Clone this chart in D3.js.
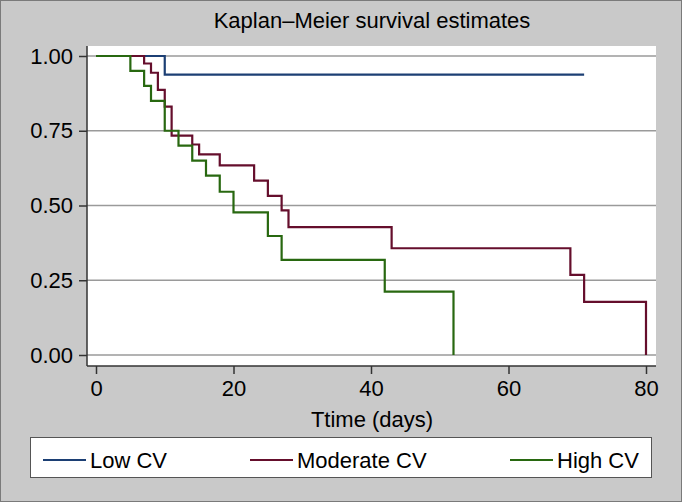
<!DOCTYPE html>
<html>
<head>
<meta charset="utf-8">
<script src="https://cdn.jsdelivr.net/npm/d3@7"></script>
<style>
  body { margin: 0; background: #c9c9c9; }
  svg { display: block; font-family: "Liberation Sans", Arial, sans-serif; }
</style>
</head>
<body>
<svg width="682" height="502"></svg>
<script>
// survival curves: step times (days) and KM estimates after each step
const lowTimes = [0, 10, 71];
const lowSurv = [1, 0.9375, 0.9375];

const modTimes = [0, 7, 8, 9, 10, 11, 14, 15, 18, 23, 25, 27, 28, 43, 69, 71, 80, 80];
const modSurv = [1, 0.975, 0.944, 0.887, 0.831, 0.734, 0.704, 0.671, 0.634, 0.583, 0.532, 0.484, 0.428, 0.357, 0.268, 0.178, 0.178, 0];

const highTimes = [0, 5, 7, 8, 10, 12, 14, 16, 18, 20, 25, 27, 42, 52, 52];
const highSurv = [1, 0.95, 0.90, 0.85, 0.75, 0.70, 0.65, 0.60, 0.546, 0.477, 0.398, 0.318, 0.212, 0.212, 0];

const seriesNames = ["Low CV", "Moderate CV", "High CV"];
const seriesColors = ["#1c3f74", "#650e2c", "#286810"];

const xTicks = [0, 20, 40, 60, 80];
const yTicks = [0, 0.25, 0.5, 0.75, 1];

const svg = d3.select("svg");

// outer frame
svg.append("rect")
  .attr("x", 0.5).attr("y", 0.5)
  .attr("width", 681).attr("height", 501)
  .attr("fill", "#c9c9c9")
  .attr("stroke", "#7a7a7a");

const x = d3.scaleLinear().domain([0, 80]).range([96, 646]);
const y = d3.scaleLinear().domain([0, 1]).range([355, 56]);

// plot region
svg.append("rect")
  .attr("x", 87).attr("y", 46)
  .attr("width", 569).attr("height", 320)
  .attr("fill", "#fff");

// grid
svg.append("g")
  .selectAll("line")
  .data(yTicks)
  .join("line")
  .attr("x1", 87).attr("x2", 656)
  .attr("y1", d => y(d)).attr("y2", d => y(d))
  .attr("stroke", "#9a9a9a")
  .attr("stroke-width", 1.5);

// axes
const yAxis = svg.append("g")
  .attr("transform", "translate(87,0)")
  .call(d3.axisLeft(y).tickValues(yTicks).tickFormat(d3.format(".2f")).tickSize(8).tickPadding(6));

const xAxis = svg.append("g")
  .attr("transform", "translate(0,366)")
  .call(d3.axisBottom(x).tickValues(xTicks).tickSize(8).tickPadding(6));

yAxis.select(".domain").attr("d", "M0,46V366");
xAxis.select(".domain").attr("d", "M87,0H656");

[yAxis, xAxis].forEach(a => {
  a.selectAll(".domain").attr("stroke", "#333").attr("stroke-width", 1.5);
  a.selectAll(".tick line").attr("stroke", "#333").attr("stroke-width", 1.5);
  a.selectAll("text").attr("font-size", 22).attr("fill", "#000")
    .attr("font-family", "Liberation Sans, Arial, sans-serif");
});

// curves
const line = d3.line()
  .x(d => x(d[0]))
  .y(d => y(d[1]))
  .curve(d3.curveStepAfter);

const series = [
  d3.zip(lowTimes, lowSurv),
  d3.zip(modTimes, modSurv),
  d3.zip(highTimes, highSurv)
];

svg.append("g")
  .selectAll("path")
  .data(series)
  .join("path")
  .attr("d", line)
  .attr("fill", "none")
  .attr("stroke", (d, i) => seriesColors[i])
  .attr("stroke-width", 2.2);

// title and axis title
svg.append("text")
  .attr("x", 372).attr("y", 28)
  .attr("text-anchor", "middle")
  .attr("font-size", 22)
  .text("Kaplan\u2013Meier survival estimates");

svg.append("text")
  .attr("x", 372).attr("y", 427)
  .attr("text-anchor", "middle")
  .attr("font-size", 22)
  .text("Ttime (days)");

// legend
const legend = svg.append("g");
legend.append("rect")
  .attr("x", 30.5).attr("y", 437.5)
  .attr("width", 621).attr("height", 40)
  .attr("fill", "#fff")
  .attr("stroke", "#555");

const keyX = [43, 250, 510];
const item = legend.selectAll("g.item")
  .data(seriesNames)
  .join("g")
  .classed("item", true)
  .attr("transform", (d, i) => `translate(${keyX[i]},460)`);

item.append("line")
  .attr("x1", 0).attr("x2", 43)
  .attr("stroke", (d, i) => seriesColors[i])
  .attr("stroke-width", 2.2);

item.append("text")
  .attr("x", 47).attr("y", 8)
  .attr("font-size", 22)
  .text(d => d);
</script>
</body>
</html>
